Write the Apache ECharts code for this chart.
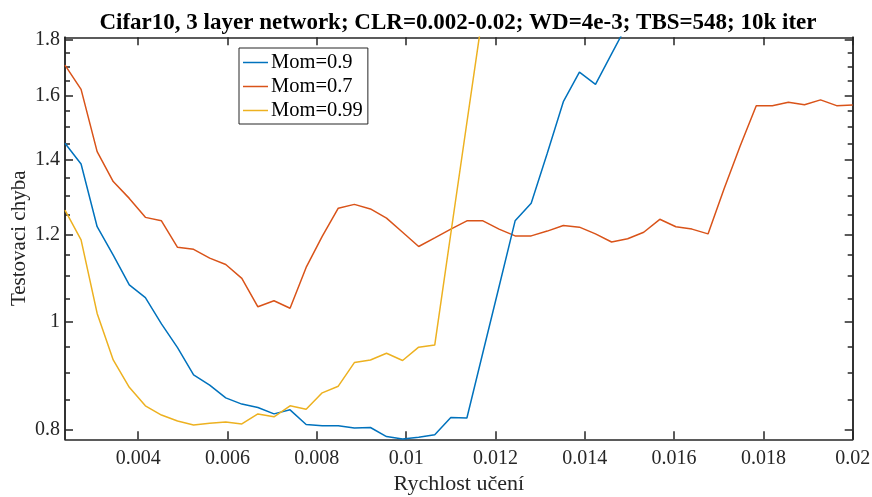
<!DOCTYPE html>
<html><head><meta charset="utf-8">
<script src="https://cdn.jsdelivr.net/npm/echarts@6/dist/echarts.min.js"></script>
<style>html,body{margin:0;padding:0;background:#fff}#c{width:872px;height:497px}</style>
</head><body><div id="c"></div>
<script>
// learning rates (x)
const learningRates = [
  0.00236, 0.00272, 0.00308, 0.00344, 0.0038, 0.00416, 0.00452, 0.00488, 0.00524, 0.0056,
  0.00596, 0.00632, 0.00668, 0.00704, 0.0074, 0.00776, 0.00812, 0.00848, 0.00884, 0.0092,
  0.00956, 0.00992, 0.01028, 0.01064, 0.011, 0.01136, 0.01172, 0.01208, 0.01244, 0.0128,
  0.01316, 0.01352, 0.01388, 0.01424, 0.0146, 0.01496, 0.01532, 0.01568, 0.01604, 0.0164,
  0.01676, 0.01712, 0.01748, 0.01784, 0.0182, 0.01856, 0.01892, 0.01928, 0.01964, 0.02
];
// test error, momentum 0.9
const mom09 = [
  1.450, 1.389, 1.219, 1.149, 1.080, 1.052, 0.996, 0.948, 0.896, 0.877,
  0.854, 0.843, 0.837, 0.826, 0.833, 0.808, 0.806, 0.806, 0.802, 0.803,
  0.788, 0.784, 0.787, 0.791, 0.820, 0.819, 0.939, 1.076, 1.234, 1.280,
  1.420, 1.581, 1.681, 1.639, 1.746, 1.860
];
// test error, momentum 0.7
const mom07 = [
  1.706, 1.622, 1.425, 1.339, 1.293, 1.243, 1.234, 1.168, 1.163, 1.142,
  1.127, 1.095, 1.032, 1.045, 1.029, 1.120, 1.195, 1.267, 1.277, 1.265,
  1.241, 1.205, 1.170, 1.191, 1.213, 1.234, 1.234, 1.213, 1.196, 1.196,
  1.208, 1.222, 1.218, 1.201, 1.181, 1.189, 1.205, 1.238, 1.219, 1.213,
  1.201, 1.319, 1.442, 1.568, 1.568, 1.579, 1.571, 1.587, 1.568, 1.570
];
// test error, momentum 0.99
const mom099 = [
  1.262, 1.186, 1.018, 0.924, 0.873, 0.840, 0.824, 0.814, 0.807, 0.810,
  0.812, 0.809, 0.826, 0.821, 0.840, 0.834, 0.863, 0.875, 0.919, 0.924,
  0.937, 0.923, 0.949, 0.953, 1.202, 1.514, 1.906
];
const seriesNames = ['Mom=0.9', 'Mom=0.7', 'Mom=0.99'];
const xTicks = [0.004, 0.006, 0.008, 0.01, 0.012, 0.014, 0.016, 0.018, 0.02];
const yTicks = [0.8, 1, 1.2, 1.4, 1.6, 1.8];
const yMinorTicks = [0.85, 0.9, 0.95, 1.05, 1.1, 1.15, 1.25, 1.3, 1.35, 1.45, 1.5, 1.55, 1.65, 1.7, 1.75];
const titleText = 'Cifar10, 3 layer network; CLR=0.002-0.02; WD=4e-3; TBS=548; 10k iter';
const xName = 'Rychlost učení';
const yName = 'Testovaci chyba';

const xMin = 0.00236, xMax = 0.02;
const yMin = 0.7835, yMax = 1.8075;

const FONT = 'Liberation Serif';
const AX = '#262626';
const colors = ['#0072BD', '#D95319', '#EDB120'];

function toPairs(vals) {
  return vals.map((v, i) => [learningRates[i], Math.log(v)]);
}
const lnTicks = yTicks.map(Math.log);
const lnMinor = yMinorTicks.map(Math.log);

function yAxisDef(pos, ticks, len, labels) {
  return {
    type: 'value', position: pos,
    min: Math.log(yMin), max: Math.log(yMax),
    axisLine: { show: true, onZero: false, lineStyle: { color: AX, width: 1.5 } },
    axisTick: { show: true, inside: true, length: len, customValues: ticks, lineStyle: { color: AX, width: 1.5 } },
    axisLabel: labels ? {
      show: true, customValues: ticks, margin: 5,
      fontFamily: FONT, fontSize: 20, color: AX,
      formatter: v => String(+Math.exp(v).toFixed(2))
    } : { show: false },
    splitLine: { show: false },
    name: labels ? yName : '',
    nameLocation: 'middle', nameGap: 35, nameMoveOverlap: false,
    nameTextStyle: { fontFamily: FONT, fontSize: 21, color: AX }
  };
}

const chart = echarts.init(document.getElementById('c'), null, { renderer: 'canvas' });
chart.setOption({
  animation: false,
  backgroundColor: '#fff',
  color: colors,
  title: {
    text: titleText, left: 458, top: 12, textAlign: 'center', padding: 0,
    textStyle: { fontFamily: FONT, fontSize: 23, fontWeight: 'bold', color: '#000' }
  },
  grid: { left: 65, right: 19.3, top: 37.3, bottom: 57.7, containLabel: false, outerBoundsMode: 'none' },
  legend: {
    orient: 'vertical', left: 239, top: 48,
    padding: [4, 5, 3, 4], itemGap: 3, itemWidth: 25, itemHeight: 1.5,
    icon: 'rect',
    borderColor: AX, borderWidth: 1, backgroundColor: '#fff',
    textStyle: { fontFamily: FONT, fontSize: 20.5, color: '#000', padding: [0, 0, 0, -2] },
    data: seriesNames
  },
  xAxis: [
    {
      type: 'value', position: 'bottom', min: xMin, max: xMax,
      axisLine: { show: true, onZero: false, lineStyle: { color: AX, width: 1.5 } },
      axisTick: { show: true, inside: true, length: 8, customValues: xTicks, lineStyle: { color: AX, width: 1.5 } },
      axisLabel: { show: true, customValues: xTicks, margin: 9, fontFamily: FONT, fontSize: 20, color: AX,
        formatter: v => String(+(+v).toFixed(4)) },
      splitLine: { show: false },
      name: xName, nameLocation: 'middle', nameGap: 33,
      nameTextStyle: { fontFamily: FONT, fontSize: 22, color: AX }
    },
    {
      type: 'value', position: 'top', min: xMin, max: xMax,
      axisLine: { show: true, onZero: false, lineStyle: { color: AX, width: 1.5 } },
      axisTick: { show: true, inside: true, length: 8, customValues: xTicks, lineStyle: { color: AX, width: 1.5 } },
      axisLabel: { show: false },
      splitLine: { show: false }
    }
  ],
  yAxis: [
    yAxisDef('left', lnTicks, 8, true),
    yAxisDef('left', lnMinor, 5, false),
    yAxisDef('right', lnTicks, 8, false),
    yAxisDef('right', lnMinor, 5, false)
  ],
  series: [
    { name: seriesNames[0], type: 'line', data: toPairs(mom09), symbol: 'none', lineStyle: { width: 1.5 }, clip: true, z: 3 },
    { name: seriesNames[1], type: 'line', data: toPairs(mom07), symbol: 'none', lineStyle: { width: 1.5 }, clip: true, z: 2 },
    { name: seriesNames[2], type: 'line', data: toPairs(mom099), symbol: 'none', lineStyle: { width: 1.5 }, clip: true, z: 4 }
  ]
});
</script>
</body></html>
